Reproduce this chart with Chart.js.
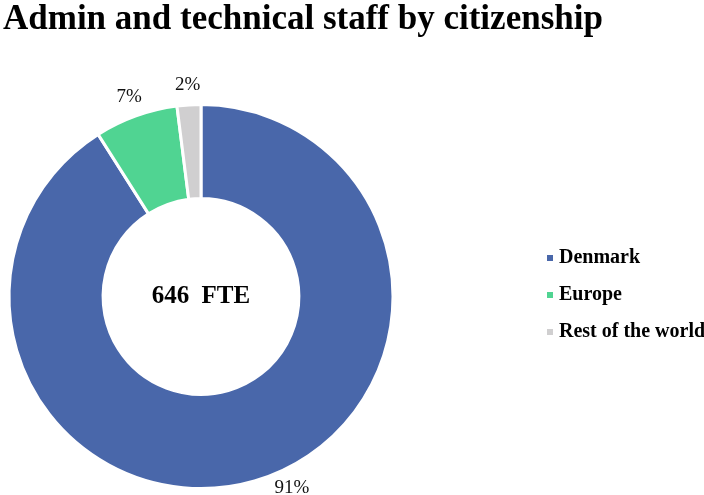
<!DOCTYPE html>
<html>
<head>
<meta charset="utf-8">
<title>Admin and technical staff by citizenship</title>
<script src="https://cdn.jsdelivr.net/npm/chart.js@4.4.0/dist/chart.umd.min.js"></script>
<style>
  html, body { margin: 0; padding: 0; background: #fff; }
  #wrap { width: 704px; height: 495px; position: relative; }
</style>
</head>
<body>
<div id="wrap"><canvas id="chart1"></canvas></div>
<script>
const categories = ['Denmark', 'Europe', 'Rest of the world'];
const shares = [91, 7, 2];          // % of FTE
const totalFte = 646;
const colours = ['#4967AA', '#50D492', '#D0CFD0'];

const serif = "'Liberation Serif', 'Times New Roman', serif";

// ring keeps to the left part of the canvas, the legend is drawn in the right part
const sideLegend = {
    id: 'sideLegend',
    afterLayout(chart, args, opts) {
        const area = chart.chartArea;
        area.right = area.left + opts.ringWidth;
        area.width = opts.ringWidth;
    },
    afterDraw(chart, args, opts) {
        const ctx = chart.ctx;
        const colors = chart.data.datasets[0].backgroundColor;
        ctx.save();
        ctx.font = `bold ${opts.fontSize}px ${serif}`;
        ctx.textBaseline = 'middle';
        ctx.textAlign = 'left';
        chart.data.labels.forEach((label, i) => {
            const y = opts.top + i * opts.rowGap;
            ctx.fillStyle = colors[i];
            ctx.fillRect(opts.x, y - opts.box / 2, opts.box, opts.box);
            ctx.fillStyle = '#000';
            ctx.fillText(label, opts.x + opts.box + 6, y);
        });
        ctx.restore();
    }
};

// total in the hole, percentages just outside each slice
const ringLabels = {
    id: 'ringLabels',
    afterDatasetsDraw(chart, args, opts) {
        const ctx = chart.ctx;
        const arcs = chart.getDatasetMeta(0).data;
        const values = chart.data.datasets[0].data;
        const total = values.reduce((a, b) => a + b, 0);
        ctx.save();
        ctx.textAlign = 'center';
        ctx.textBaseline = 'middle';

        ctx.font = `bold 25px ${serif}`;
        ctx.fillStyle = '#000';
        ctx.wordSpacing = '6px';
        ctx.fillText(`${totalFte} FTE`, arcs[0].x, arcs[0].y);
        ctx.wordSpacing = '0px';

        ctx.font = `19px ${serif}`;
        ctx.fillStyle = '#111';
        const maxY = chart.height - opts.bottomRoom;
        arcs.forEach((arc, i) => {
            const p = arc.getProps(['startAngle', 'endAngle', 'outerRadius', 'x', 'y'], true);
            const mid = (p.startAngle + p.endAngle) / 2;
            const r = p.outerRadius + opts.gap;
            let lx = p.x + Math.cos(mid) * r;
            let ly = p.y + Math.sin(mid) * r;
            if (ly > maxY) {
                // slide along the circle so the label stays on the canvas
                const dy = maxY - p.y;
                lx = p.x + Math.sign(Math.cos(mid)) * Math.sqrt(r * r - dy * dy);
                ly = maxY;
            }
            ctx.fillText(Math.round(values[i] / total * 100) + '%', lx, ly);
        });
        ctx.restore();
    }
};

const ctx = document.getElementById('chart1');

new Chart(ctx, {
    type: 'doughnut',
    data: {
        labels: categories,
        datasets: [{
            data: shares,
            backgroundColor: colours,
            borderColor: '#fff',
            borderWidth: 3
        }]
    },
    options: {
        responsive: true,
        maintainAspectRatio: false,
        animation: false,
        cutout: '51%',
        layout: {
            padding: { left: 3, top: 0, right: 0, bottom: 5 }
        },
        plugins: {
            legend: { display: false },
            tooltip: { enabled: false },
            title: {
                display: true,
                text: 'Admin and technical staff by citizenship',
                align: 'start',
                color: '#000',
                font: { family: serif, size: 35, weight: 'bold', lineHeight: 1 },
                padding: { top: 2, bottom: 66 }
            },
            sideLegend: { ringWidth: 396, x: 547, top: 258, rowGap: 37, box: 6, fontSize: 20 },
            ringLabels: { gap: 20, bottomRoom: 7 }
        }
    },
    plugins: [sideLegend, ringLabels]
});
</script>
</body>
</html>
